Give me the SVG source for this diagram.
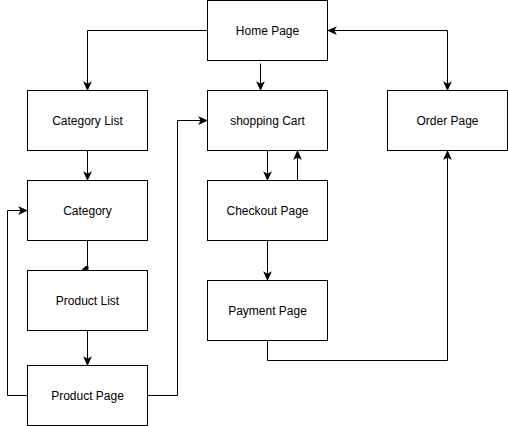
<svg xmlns="http://www.w3.org/2000/svg" width="508" height="426" viewBox="0 0 508 426">
<defs>
<marker id="arr" markerUnits="userSpaceOnUse" markerWidth="10" markerHeight="10" viewBox="0 0 8 8" refX="7.5" refY="4" orient="auto-start-reverse">
<path d="M0,0.5 L8,4 L0,7.5 L2,4 Z" fill="#000"/>
</marker>
<style>
.box{fill:#fff;stroke:#000;stroke-width:1}
.lbl{font-family:"Liberation Sans",Arial,Helvetica,sans-serif;font-size:12px;fill:#000;text-anchor:middle;dominant-baseline:central}
.c{fill:none;stroke:#000;stroke-width:1}
</style>
</defs>
<rect width="508" height="426" fill="#fff"/>
<g id="connectors">
<path class="c" d="M207.5,30.5 H87.5 V90.5" marker-end="url(#arr)"/>
<path class="c" d="M260.5,63.5 V90.5" marker-end="url(#arr)"/>
<path class="c" d="M327.5,30.5 H447.5 V90.5" marker-start="url(#arr)" marker-end="url(#arr)"/>
<path class="c" d="M87.5,150.5 V180.5" marker-end="url(#arr)"/>
<path class="c" d="M87.5,240.5 V268"/>
<polygon points="81.5,270 86,265.8 88.5,266.2 88.5,269.8" fill="#000"/>
<path class="c" d="M87.5,330.5 V365.5" marker-end="url(#arr)"/>
<path class="c" d="M27.5,395.5 H7.5 V210.5 H27.5" marker-end="url(#arr)"/>
<path class="c" d="M147.5,395.5 H177.5 V120.5 H207.5" marker-end="url(#arr)"/>
<path class="c" d="M267.5,150.5 V180.5" marker-end="url(#arr)"/>
<path class="c" d="M297.5,180.5 V150.5" marker-end="url(#arr)"/>
<path class="c" d="M267.5,240.5 V280.5" marker-end="url(#arr)"/>
<path class="c" d="M267.5,340.5 V360.5 H447.5 V150.5" marker-end="url(#arr)"/>
</g>
<g id="home"><rect class="box" x="207.5" y="0.5" width="120" height="60"/><text class="lbl" x="267.5" y="30.5">Home Page</text></g>
<g id="categoryList"><rect class="box" x="27.5" y="90.5" width="120" height="60"/><text class="lbl" x="87.5" y="120.5">Category List</text></g>
<g id="cart"><rect class="box" x="207.5" y="90.5" width="120" height="60"/><text class="lbl" x="267.5" y="120.5">shopping Cart</text></g>
<g id="order"><rect class="box" x="387.5" y="90.5" width="120" height="60"/><text class="lbl" x="447.5" y="120.5">Order Page</text></g>
<g id="category"><rect class="box" x="27.5" y="180.5" width="120" height="60"/><text class="lbl" x="87.5" y="210.5">Category</text></g>
<g id="checkout"><rect class="box" x="207.5" y="180.5" width="120" height="60"/><text class="lbl" x="267.5" y="210.5">Checkout Page</text></g>
<g id="productList"><rect class="box" x="27.5" y="270.5" width="120" height="60"/><text class="lbl" x="87.5" y="300.5">Product List</text></g>
<g id="payment"><rect class="box" x="207.5" y="280.5" width="120" height="60"/><text class="lbl" x="267.5" y="310.5">Payment Page</text></g>
<g id="productPage"><rect class="box" x="27.5" y="365.5" width="120" height="60"/><text class="lbl" x="87.5" y="395.5">Product Page</text></g>
</svg>
